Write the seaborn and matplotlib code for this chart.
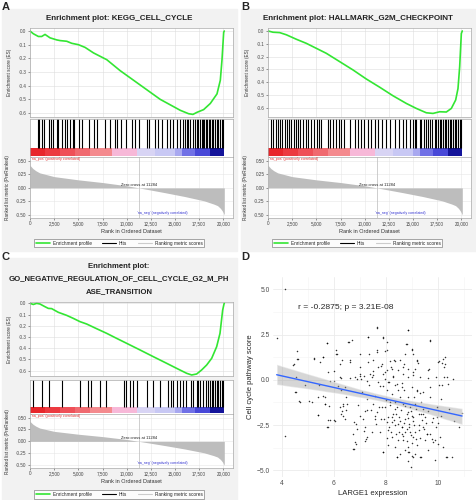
import matplotlib
matplotlib.use('Agg')
import matplotlib.pyplot as plt
import seaborn as sns
import pandas as pd
from matplotlib.lines import Line2D
from matplotlib.patches import Rectangle

sns.set_theme(style='white')
plt.rcParams['font.family'] = ['Liberation Sans', 'DejaVu Sans']

W, H = 476, 500

# ranked list metric (same pre-ranked list in A, B, C)
metric_rank = [0, 100, 300, 600, 1000, 2500, 5000, 7500, 10000, 11284, 12500,
               14000, 16000, 18000, 19000, 19400, 19700, 19900, 20100]
metric_val = [0.42, 0.40, 0.36, 0.32, 0.28, 0.21, 0.15, 0.10, 0.04, 0.0, -0.04,
              -0.09, -0.16, -0.24, -0.30, -0.33, -0.38, -0.43, -0.50]
zero_cross = 11284

# colour bar under the hits
band_edges = [0, 1550, 3100, 4660, 6220, 8500, 11090, 12950, 15030, 15750, 17100, 18650, 20100]
band_colors = ['#e8262b', '#ec3a40', '#ef5058', '#f06a70', '#f48a8e', '#f7b8d8',
               '#d8d4f4', '#c8c8f4', '#a8a8f0', '#7070e6', '#4848d8', '#14149a']

# panel A: KEGG_CELL_CYCLE
es_rank_a = [0, 345, 864, 1209, 1554, 2073, 2763, 3109, 3800, 4318, 5009, 5700, 6563,
             7945, 9326, 10708, 12090, 13472, 14508, 15544, 16408, 16857, 17271,
             17962, 18653, 19344, 19689, 19862, 20035, 20100]
es_val_a = [0.0, -0.02, -0.04, -0.04, -0.025, -0.05, -0.065, -0.07, -0.075, -0.09, -0.10,
            -0.12, -0.16, -0.21, -0.29, -0.36, -0.43, -0.50, -0.54, -0.58, -0.605, -0.61,
            -0.595, -0.575, -0.53, -0.46, -0.36, -0.21, -0.01, 0.0]
hits_a = [793, 966, 1207, 1448, 2000, 2172, 2414, 2759, 2931, 3276, 3621, 3793, 4138,
          4414, 4552, 5034, 5345, 6138, 6621, 6897, 7759, 8276, 8793, 9034, 9414, 9931,
          10517, 10862, 11310, 12069, 12345, 12931, 13276, 13690, 14138, 14483, 14828,
          15172, 15517, 15793, 16034, 16207, 16379, 16552, 16828, 17069, 17241, 17414,
          17586, 17759, 17862, 18000, 18207, 18345, 18483, 18621, 18793, 18966, 19138,
          19310, 19483, 19655, 19828, 19931]

# panel B: HALLMARK_G2M_CHECKPOINT
es_rank_b = [0, 517, 1207, 1897, 2931, 3966, 5000, 6034, 7414, 8793, 10172, 11552,
             12931, 14310, 15345, 16379, 17069, 17759, 18448, 18966, 19414, 19655,
             19828, 20000, 20100]
es_val_b = [0.0, -0.01, -0.013, -0.03, -0.065, -0.097, -0.136, -0.175, -0.24, -0.305,
            -0.376, -0.44, -0.507, -0.567, -0.606, -0.64, -0.645, -0.632, -0.634, -0.606,
            -0.54, -0.45, -0.28, -0.02, 0.0]
hits_b = [345, 517, 793, 1034, 1207, 1483, 1724, 1965, 2172, 2414, 2655, 2931, 3103,
          3276, 3621, 3966, 4138, 4483, 4724, 5069, 5276, 5517, 6207, 6448, 6724, 7069,
          7345, 7586, 7828, 8448, 8966, 9310, 9655, 9897, 10345, 10690, 11034, 11379,
          11828, 12172, 12586, 13103, 13552, 13966, 14310, 14724, 15000, 15172, 15345,
          15690, 15862, 16103, 16379, 16552, 16724, 17000, 17241, 17414, 17586, 17759,
          17931, 18103, 18276, 18448, 18621, 18793, 18966, 19138, 19310, 19483, 19655,
          19828, 19966]

# panel C: GO negative regulation of G2/M transition
es_rank_c = [0, 345, 690, 1034, 1552, 1897, 2241, 2931, 3793, 4483, 5172, 5862, 6897,
             7931, 8966, 10000, 11379, 12759, 14138, 15172, 16207, 16724, 17241, 17759,
             18276, 18793, 19310, 19655, 19931, 20069, 20100]
es_val_c = [0.0, -0.01, 0.0, -0.006, -0.03, -0.045, -0.047, -0.08, -0.107, -0.134,
            -0.163, -0.184, -0.226, -0.267, -0.312, -0.356, -0.415, -0.475, -0.534,
            -0.579, -0.623, -0.638, -0.629, -0.593, -0.549, -0.49, -0.386, -0.267,
            -0.06, -0.006, 0.0]
hits_c = [345, 1207, 2000, 3276, 5172, 6034, 6276, 7241, 7862, 9724, 9931, 10345, 10690,
          11034, 12069, 12759, 13448, 14310, 14552, 14828, 15172, 15517, 15793, 16138,
          16621, 16828, 17241, 17414, 17586, 17931, 18207, 18448, 18621, 18793, 18966,
          19138, 19310, 19483, 19655, 19828, 19931]

# panel D: LARGE1 expression vs cell cycle pathway score
scatter_pts = [
    (4.13, 5.04), (3.81, 2.33), (4.12, -3.1), (4.59, 1.57), (4.58, 1.17), (4.45, 0.84),
    (4.55, 0.16), (4.53, -0.67), (4.68, -1.17), (5.24, 1.17), (5.06, -1.15), (4.88, -0.3),
    (5.43, -0.3), (5.4, -1.92), (5.58, 1.26), (5.65, -0.95), (5.67, -1.32), (5.74, 2.04),
    (5.78, 0.43), (5.78, -2.24), (5.74, -2.6), (6.0, 0.49), (6.0, -2.24), (6.1, 1.63),
    (6.12, 1.45), (6.27, 0.1), (6.27, -0.58), (6.23, -1.5), (6.29, -1.87), (6.36, -1.32),
    (6.55, 2.09), (6.7, 2.22), (6.61, 1.08), (6.46, -0.95), (6.48, -1.69), (6.72, -2.97),
    (6.74, -3.8), (6.8, 0.16), (6.84, -2.42), (6.87, -3.53), (6.93, -1.4), (7.0, 1.45),
    (7.02, 0.71), (7.06, 0.06), (7.09, -0.67), (7.13, -2.15), (7.19, -2.6), (7.23, -3.25),
    (7.26, -1.04), (7.28, -1.69), (7.32, 2.37), (7.35, 1.41), (7.38, 0.34), (7.36, -0.3),
    (7.41, -1.69), (7.45, -2.88), (7.49, 1.08), (7.51, 0.25), (7.58, -0.91), (7.58, -2.15),
    (7.62, -2.42), (7.64, 2.88), (7.67, 1.63), (7.71, 0.71), (7.71, -0.12), (7.75, -1.5),
    (7.77, -2.88), (7.84, 0.89), (7.84, -1.5), (7.87, 2.33), (7.9, -0.36), (7.93, -2.15),
    (7.87, -3.99), (7.96, 0.06), (7.99, -1.1), (8.03, 1.63), (8.03, 0.52), (8.05, -0.58),
    (8.07, -2.05), (8.09, -2.79), (8.09, -3.62), (8.12, -0.12), (8.16, -1.4), (8.18, 0.71),
    (8.22, -0.76), (8.22, -2.33), (8.25, -3.16), (8.29, 0.16), (8.29, -1.87), (8.31, 1.08),
    (8.33, -0.3), (8.35, -1.22), (8.36, -2.51), (8.38, -2.97), (8.41, -4.26), (8.44, -1.5),
    (8.45, -0.58), (8.48, 0.52), (8.5, -2.05), (8.52, -2.88), (8.54, -0.95), (8.57, -1.69),
    (8.61, -0.18), (8.63, -2.6), (8.65, -3.34), (8.67, -1.32), (8.7, 0.89), (8.71, -0.58),
    (8.74, -2.15), (8.76, 2.0), (8.8, -1.87), (8.83, -3.71), (8.84, -0.95), (8.86, 2.73),
    (8.86, 0.16), (8.89, -2.42), (8.9, -3.99), (8.93, -1.5), (8.95, -3.07), (8.97, -4.82),
    (8.99, 1.63), (8.99, -0.4), (9.02, -2.05), (9.03, -4.26), (9.06, -0.95), (9.08, -2.51),
    (9.12, 0.62), (9.12, -1.32), (9.16, -3.25), (9.19, 1.08), (9.21, -0.58), (9.25, -1.87),
    (9.28, -2.79), (9.32, 0.16), (9.34, -1.22), (9.36, -4.26), (9.38, -2.24), (9.42, -0.67),
    (9.44, -1.87), (9.51, -2.05), (9.57, -2.97), (9.64, 0.62), (9.68, 2.18), (9.7, -0.4),
    (9.77, -2.33), (9.8, -3.43), (9.87, -4.41), (9.91, 0.16), (9.93, -2.6), (9.96, -1.5),
    (10.02, 1.02), (10.05, -0.3), (10.09, -3.16), (10.13, -1.04), (10.15, 0.93),
    (10.22, 0.16), (10.24, 0.71), (10.28, 1.26), (10.32, -4.26), (10.37, -0.21),
    (10.53, -4.26), (10.56, 0.06), (10.92, -1.83),
    (7.45, 0.14), (7.9, 0.32), (8.28, 0.23), (8.67, 0.32), (9.05, 0.27), (9.63, 0.08),
    (10.33, 0.14), (10.14, -0.29), (7.77, -0.32), (8.09, -0.14), (8.41, -0.23),
    (8.6, -0.41), (9.18, -0.6), (9.31, -0.73), (9.69, -0.97), (7.49, -1.34), (7.96, -1.52),
    (8.15, -1.24), (8.35, -1.61), (8.73, -1.43), (8.86, -1.8), (8.99, -1.98), (9.43, -1.61),
    (9.95, -2.07), (7.64, -1.8), (7.58, -1.98), (7.83, -2.17), (8.03, -2.35), (8.22, -2.07),
    (8.47, -2.44), (8.6, -2.62), (8.8, -2.72), (8.92, -2.9), (8.67, -3.08), (9.05, -3.18),
    (9.43, -2.62), (9.57, -2.99), (9.76, -3.27), (10.01, -3.55), (7.9, -4.0), (8.41, -4.28),
    (8.86, -4.0), (8.99, -4.19), (9.31, -4.28), (8.86, -4.46), (10.33, -4.28),
    (6.24, 0.14), (6.63, 0.08), (6.88, 0.04), (7.01, 0.23), (7.27, -0.04), (4.54, -0.69),
    (4.7, -1.2), (5.15, -1.2), (5.41, -0.97), (5.6, -0.91), (5.67, -1.34), (5.8, -1.43),
    (5.41, -1.94), (5.86, -2.22), (6.05, -2.26), (5.77, -2.62), (6.31, -1.71), (6.37, -1.43),
    (6.5, -1.34), (6.37, -1.98), (6.44, -2.17), (6.76, -2.35), (7.01, -1.98), (7.21, -1.71),
    (6.88, -2.72), (7.14, -2.81), (7.27, -3.18), (7.21, -3.36), (6.82, -3.45), (6.76, -3.82),
    (6.18, -0.32), (6.44, -0.41),
    (4.62, 1.15), (4.49, 0.87), (5.26, 1.19), (5.6, 1.24), (5.47, 0.97), (5.73, 2.03),
    (6.08, 1.42), (6.31, 1.11), (5.86, -0.04), (5.99, -0.04), (6.59, 2.11), (6.63, 1.0),
    (6.24, 0.87), (7.01, 0.32), (7.14, 0.23), (7.33, 2.35), (7.33, 0.97),
    (8.86, 2.77), (9.69, 2.16), (7.67, 2.9), (7.9, 2.35), (8.03, 2.07), (7.64, 1.52),
    (7.96, 1.61), (8.8, 1.98), (8.99, 1.7), (9.03, 1.42), (8.73, 1.42), (9.18, 1.06),
    (9.24, 0.93), (8.15, 1.06), (8.35, 1.06), (8.54, 1.11), (7.83, 0.78), (8.22, 0.6),
    (8.67, 0.69), (8.86, 0.6), (10.01, 0.97), (10.2, 1.15), (10.27, 0.87), (9.63, 0.56),
    (7.51, 0.5), (7.96, 0.41), (9.05, 0.41),
    (8.1, -2.6), (8.2, -2.9), (8.3, -2.2), (8.4, -1.9), (8.45, -3.3), (8.55, -2.3),
    (8.6, -3.0), (8.7, -2.4), (8.75, -2.9), (8.8, -3.4), (8.85, -2.1), (8.9, -2.6),
    (8.95, -1.7), (9.0, -3.5), (9.05, -2.3), (9.1, -2.9), (9.15, -1.6), (9.2, -3.6),
    (9.25, -2.5), (9.3, -3.2), (9.35, -1.9), (9.45, -2.7), (9.5, -3.3), (9.55, -2.4),
    (9.6, -1.7), (9.7, -3.0), (9.8, -2.1), (9.9, -3.3), (10.0, -2.4), (10.1, -2.0),
    (10.4, -1.6), (10.6, -2.3), (10.8, -2.6), (8.35, -3.7), (8.55, -4.1), (8.75, -3.9),
    (9.1, -4.1), (9.6, -3.9), (10.2, -3.7), (8.05, -3.2),
]
stat_text = 'r = -0.2875; p = 3.21E-08'

rank_ticks = [0, 2500, 5000, 7500, 10000, 12500, 15000, 17500, 20000]
es_ticks = [0.0, -0.1, -0.2, -0.3, -0.4, -0.5, -0.6]
metric_ticks = [0.5, 0.25, 0.0, -0.25, -0.5]


def box(x0, y0, x1, y1):
    return [x0 / W, 1 - y1 / H, (x1 - x0) / W, (y1 - y0) / H]


def style(ax):
    ax.set_facecolor('white')
    for s in ax.spines.values():
        s.set_color('#aaaaaa')
        s.set_linewidth(0.5)
    ax.tick_params(labelsize=3.3, length=1.5, width=0.4, pad=1, colors='#444444',
                   left=True, bottom=True)
    ax.set_xlim(0, 21000)


def gsea_panel(fig, left, right, es_box, hit_box, met_box, cb_frac, es_ylim,
               ranks, es, hits, legend_y, label_x):
    # enrichment score
    ax = fig.add_axes(box(left, es_box[0], right, es_box[1]))
    style(ax)
    ax.grid(True, color='#dddddd', lw=0.4)
    sns.lineplot(x=ranks, y=es, ax=ax, color='#33e633', lw=1.2, sort=False, estimator=None)
    ax.set_ylim(*es_ylim)
    ax.set_yticks(es_ticks)
    ax.set_yticklabels([f'{v:.1f}' for v in es_ticks])
    ax.set_xticks(rank_ticks)
    ax.set_xticklabels([])
    ax.tick_params(axis='x', length=0)
    fig.text(label_x / W, 1 - (es_box[0] + es_box[1]) / 2 / H, 'Enrichment score (ES)',
             rotation=90, ha='center', va='center', fontsize=3.3, color='#333333')

    # hits + ranked list colour bar
    axh = fig.add_axes(box(left, hit_box[0], right, hit_box[1]))
    style(axh)
    axh.set_ylim(0, 1)
    axh.vlines(hits, cb_frac[1], 1, color='black', lw=0.8)
    for i, c in enumerate(band_colors):
        axh.axvspan(band_edges[i], band_edges[i + 1], cb_frac[0], cb_frac[1], color=c, lw=0)
    axh.set_xticks([])
    axh.set_yticks([])

    # ranked list metric
    axm = fig.add_axes(box(left, met_box[0], right, met_box[1]))
    style(axm)
    axm.grid(True, color='#e6e6e6', lw=0.4)
    axm.fill_between(metric_rank, 0, metric_val, color='#bdbdbd', lw=0)
    axm.axvline(zero_cross, color='#bbbbbb', lw=0.5)
    axm.set_ylim(-0.56, 0.575)
    axm.set_yticks(metric_ticks)
    axm.set_yticklabels([f'{v:.2f}' for v in metric_ticks])
    axm.set_xticks(rank_ticks)
    axm.set_xticklabels([f'{v:,}' for v in rank_ticks])
    axm.set_xlabel('Rank in Ordered Dataset', fontsize=4, labelpad=1.5, color='#333333')
    axm.text(150, 0.53, "'na_pos' (positively correlated)", color='#e03030', fontsize=2.6,
             va='center', ha='left')
    axm.text(zero_cross, 0.025, f'Zero cross at {zero_cross}', color='#222222',
             fontsize=3, ha='center', va='bottom')
    axm.text(13700, -0.46, "'na_neg' (negatively correlated)", color='#3030d0',
             fontsize=2.6, ha='center', va='center')
    fig.text((label_x - 1.8) / W, 1 - (met_box[0] + met_box[1]) / 2 / H,
             'Ranked list metric (PreRanked)', rotation=90, ha='center', va='center',
             fontsize=3.3, color='#333333')

    handles = [Line2D([], [], color='#33e633', lw=1.2), Line2D([], [], color='black', lw=0.8),
               Line2D([], [], color='#cccccc', lw=0.8)]
    leg = fig.legend(handles, ['Enrichment profile', 'Hits', 'Ranking metric scores'],
                     ncol=3, loc='center', bbox_to_anchor=((left + 89) / W, 1 - legend_y / H),
                     fontsize=3.4, frameon=True, fancybox=False, handlelength=3,
                     columnspacing=2.2, borderpad=0.35, handletextpad=0.6)
    leg.get_frame().set_edgecolor('#666666')
    leg.get_frame().set_linewidth(0.5)
    leg.get_frame().set_facecolor('white')


fig = plt.figure(figsize=(W / 100, H / 100), dpi=100)
fig.patch.set_facecolor('white')

for x0, y0, x1, y1 in [(2, 9, 237, 251), (241, 9, 476, 251), (2, 258, 237, 500)]:
    fig.patches.append(Rectangle((x0 / W, 1 - y1 / H), (x1 - x0) / W, (y1 - y0) / H,
                                 transform=fig.transFigure, color='#f2f2f2', zorder=-5))

gsea_panel(fig, 30, 233, (28, 117), (118.5, 157), (157, 218), (0.026, 0.234),
           (-0.629, 0.022), es_rank_a, es_val_a, hits_a, 243, 9.3)
gsea_panel(fig, 268, 471, (28, 117), (118.5, 157), (157, 218), (0.026, 0.234),
           (-0.673, 0.023), es_rank_b, es_val_b, hits_b, 243, 247.5)
gsea_panel(fig, 30, 233, (302, 376), (379.5, 414), (414, 468), (0.02, 0.217),
           (-0.647, 0.012), es_rank_c, es_val_c, hits_c, 494.5, 9.3)

fig.text(119 / W, 1 - 18.3 / H, 'Enrichment plot: KEGG_CELL_CYCLE', ha='center', va='center',
         fontsize=5.8, weight='bold', color='#222222')
fig.text(358 / W, 1 - 18.3 / H, 'Enrichment plot: HALLMARK_G2M_CHECKPOINT', ha='center',
         va='center', fontsize=5.8, weight='bold', color='#222222')
for y, t in [(266.7, 'Enrichment plot:'), (279, 'GO_NEGATIVE_REGULATION_OF_CELL_CYCLE_G2_M_PH'),
             (291.7, 'ASE_TRANSITION')]:
    fig.text(119 / W, 1 - y / H, t, ha='center', va='center', fontsize=5.6, weight='bold',
             color='#222222')

for x, y, t in [(2, 2, 'A'), (241, 2, 'B'), (2, 252, 'C'), (241, 252, 'D')]:
    fig.text(x / W, 1 - y / H, t, ha='left', va='top', fontsize=8, weight='bold')

# panel D
df = pd.DataFrame(scatter_pts, columns=['expr', 'score'])
axd = fig.add_axes(box(273, 277, 472, 477))
axd.set_facecolor('white')
sns.regplot(data=df, x='expr', y='score', ax=axd, ci=95, seed=1, color='#999999',
            scatter_kws=dict(s=1.2, color='black', linewidths=0),
            line_kws=dict(color='#3366ff', lw=1))
band = axd.collections[-1]
band.set_facecolor('#999999')
band.set_alpha(0.4)
axd.set_xlim(3.67, 11.3)
axd.set_ylim(-5.37, 5.68)
axd.set_xticks([4, 6, 8, 10])
axd.set_yticks([-5, -2.5, 0, 2.5, 5])
axd.set_yticklabels(['\u22125.0', '\u22122.5', '0.0', '2.5', '5.0'])
axd.set_xticks([5, 7, 9, 11], minor=True)
axd.set_yticks([-3.75, -1.25, 1.25, 3.75], minor=True)
axd.grid(True, which='major', color='#ebebeb', lw=0.6)
axd.grid(True, which='minor', color='#f3f3f3', lw=0.4)
for s in axd.spines.values():
    s.set_visible(False)
axd.tick_params(labelsize=4.8, length=0, pad=2, colors='#4d4d4d')
axd.set_xlabel('LARGE1 expression', fontsize=5.5, labelpad=2)
axd.set_ylabel('Cell cycle pathway score', fontsize=5.5, labelpad=2)
axd.text(6.46, 4.0, stat_text, ha='center', va='center', fontsize=6.1)

fig.savefig('out.png', dpi=100)
